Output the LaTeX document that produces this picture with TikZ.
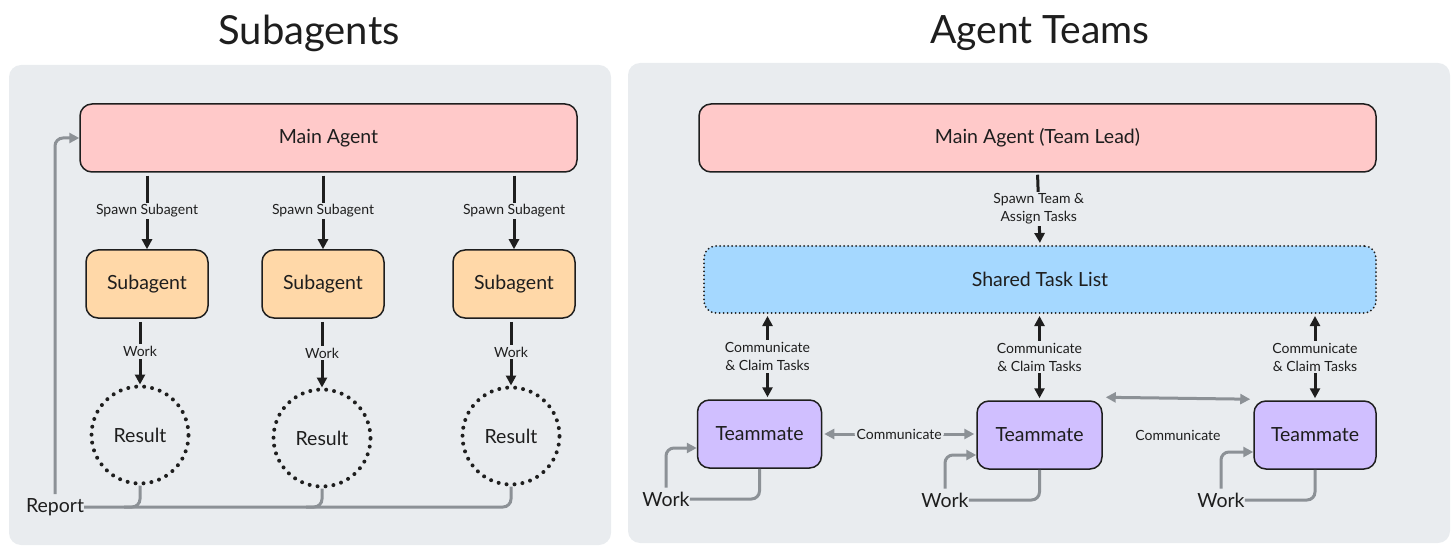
\documentclass[tikz,border=0pt]{standalone}
\usepackage{fontspec}
\setmainfont{Lato}
\usetikzlibrary{positioning}
\usetikzlibrary{calc}
\usetikzlibrary{arrows.meta}
\definecolor{panel}{HTML}{E9ECEF}
\definecolor{agentpink}{HTML}{FFC9C9}
\definecolor{suborange}{HTML}{FFD8A8}
\definecolor{tasksky}{HTML}{A5D8FF}
\definecolor{matelilac}{HTML}{D0BFFF}
\definecolor{ink}{HTML}{1E1E1E}
\definecolor{greyline}{HTML}{8C9196}

\begin{document}
\begin{tikzpicture}[x=1pt, y=-1pt,
    >={Triangle[length=10pt,width=10pt]},
    box/.style={draw=ink, line width=1.5pt, rounded corners=12pt, inner sep=0pt, text=ink, font=\fontsize{19.5}{22}\selectfont},
    lbl/.style={fill=panel, inner sep=2pt, align=center, text=ink, font=\fontsize{14}{18}\selectfont},
    big/.style={text=ink, inner sep=0pt, font=\fontsize{19.5}{22}\selectfont},
    blk/.style={draw=ink, line width=3pt},
    gry/.style={draw=greyline, line width=3pt, rounded corners=8pt},
    dots/.style={line cap=round, line width=4pt, dash pattern=on 0pt off 8pt},
]
    \useasboundingbox (0,0) rectangle (1456,553);
    \fill[panel, rounded corners=12pt] (9,65) rectangle (611,545);
    \fill[panel, rounded corners=12pt] (628,63) rectangle (1450,543);

    \node[text=ink, font=\fontsize{40}{44}\selectfont] (title1) at (309,33) {Subagents};
    \node[text=ink, font=\fontsize{39}{44}\selectfont] (title2) at (1040,33) {Agent Teams};

    \node[box, fill=agentpink, minimum width=497pt, minimum height=68pt] (main) at (328.5,138) {Main Agent};
    \node[box, fill=suborange, minimum width=122pt, minimum height=68pt] (sa1) at (147,284) {Subagent};
    \node[box, fill=suborange, minimum width=122pt, minimum height=68pt] (sa2) at (323,284) {Subagent};
    \node[box, fill=suborange, minimum width=122pt, minimum height=68pt] (sa3) at (514,284) {Subagent};
    \node[big, circle, draw=ink, dots, minimum size=97pt] (res1) at (140,435) {Result};
    \node[big, circle, draw=ink, dots, minimum size=97pt] (res2) at (322,438) {Result};
    \node[big, circle, draw=ink, dots, minimum size=97pt] (res3) at (511,436) {Result};
    \node[big] (rep) at (55,507) {Report};

    \draw[blk, ->, shorten <=3pt] (main.south -| sa1.north) -- node[lbl] {Spawn Subagent} (sa1.north);
    \draw[blk, ->, shorten <=3pt] (main.south -| sa2.north) -- node[lbl] {Spawn Subagent} (sa2.north);
    \draw[blk, ->, shorten <=3pt] (main.south -| sa3.north) -- node[lbl] {Spawn Subagent} (sa3.north);
    \draw[blk, ->, shorten <=3pt] (sa1.south -| res1.north) -- node[lbl] {Work} (res1.north);
    \draw[blk, ->, shorten <=3pt] (sa2.south -| res2.north) -- node[lbl] {Work} (res2.north);
    \draw[blk, ->, shorten <=3pt] (sa3.south -| res3.north) -- node[lbl] {Work} (res3.north);

    \draw[gry] (rep.east) -| (res3.south);
    \draw[gry] (res1.south) |- ([xshift=-16pt]res1.south |- rep.east);
    \draw[gry] (res2.south) |- ([xshift=-16pt]res2.south |- rep.east);
    \draw[gry, ->, shorten <=4pt] (rep.north) |- (main.west);

    \node[box, fill=agentpink, minimum width=677pt, minimum height=68pt] (lead) at (1037.5,138) {Main Agent (Team Lead)};
    \node[box, fill=tasksky, line cap=round, line width=2pt, dash pattern=on 0pt off 4pt, minimum width=672pt, minimum height=67pt] (tasks) at (1040,279.5) {Shared Task List};
    \node[box, fill=matelilac, minimum width=124pt, minimum height=68pt] (tm1) at (759.5,434) {Teammate};
    \node[box, fill=matelilac, minimum width=125pt, minimum height=68pt] (tm2) at (1039.5,435) {Teammate};
    \node[box, fill=matelilac, minimum width=122pt, minimum height=68pt] (tm3) at (1315,435) {Teammate};
    \node[big] (work1) at (666,499) {Work};
    \node[big] (work2) at (945,500) {Work};
    \node[big] (work3) at (1221,500) {Work};

    \draw[blk, ->, shorten <=2pt, shorten >=2pt] (lead.south) -- node[lbl] {Spawn Team \&\\Assign Tasks} (tasks.north);
    \draw[blk, <->, shorten <=2pt, shorten >=2pt] ([xshift=8pt]tm1.north |- tasks.south) -- node[lbl] {Communicate\\\& Claim Tasks} ([xshift=8pt]tm1.north);
    \draw[blk, <->, shorten <=2pt, shorten >=2pt] (tm2.north |- tasks.south) -- node[lbl] {Communicate\\\& Claim Tasks} (tm2.north);
    \draw[blk, <->, shorten <=2pt, shorten >=2pt] (tm3.north |- tasks.south) -- node[lbl] {Communicate\\\& Claim Tasks} (tm3.north);

    \draw[gry, <->, shorten <=2pt, shorten >=2pt] (tm1.east) -- node[lbl] {Communicate} (tm1.east -| tm2.west);
    \draw[gry, <->, shorten <=3pt, shorten >=3pt] ([yshift=3pt]tm2.north east) -- ([yshift=1pt]tm3.north west);
    \path (tm2.east) -- node[lbl, fill=none] {Communicate} (tm3.west);

    \draw[gry] (work1.east) -| (tm1.south);
    \draw[gry] (work2.east) -| (tm2.south);
    \draw[gry] (work3.east) -| (tm3.south);
    \draw[gry, ->, shorten <=4pt] (work1.north) |- ([yshift=-14pt]tm1.west);
    \draw[gry, ->, shorten <=4pt] (work2.north) |- ([yshift=-20pt]tm2.west);
    \draw[gry, ->, shorten <=4pt] (work3.north) |- ([yshift=-17pt]tm3.west);
\end{tikzpicture}
\end{document}
